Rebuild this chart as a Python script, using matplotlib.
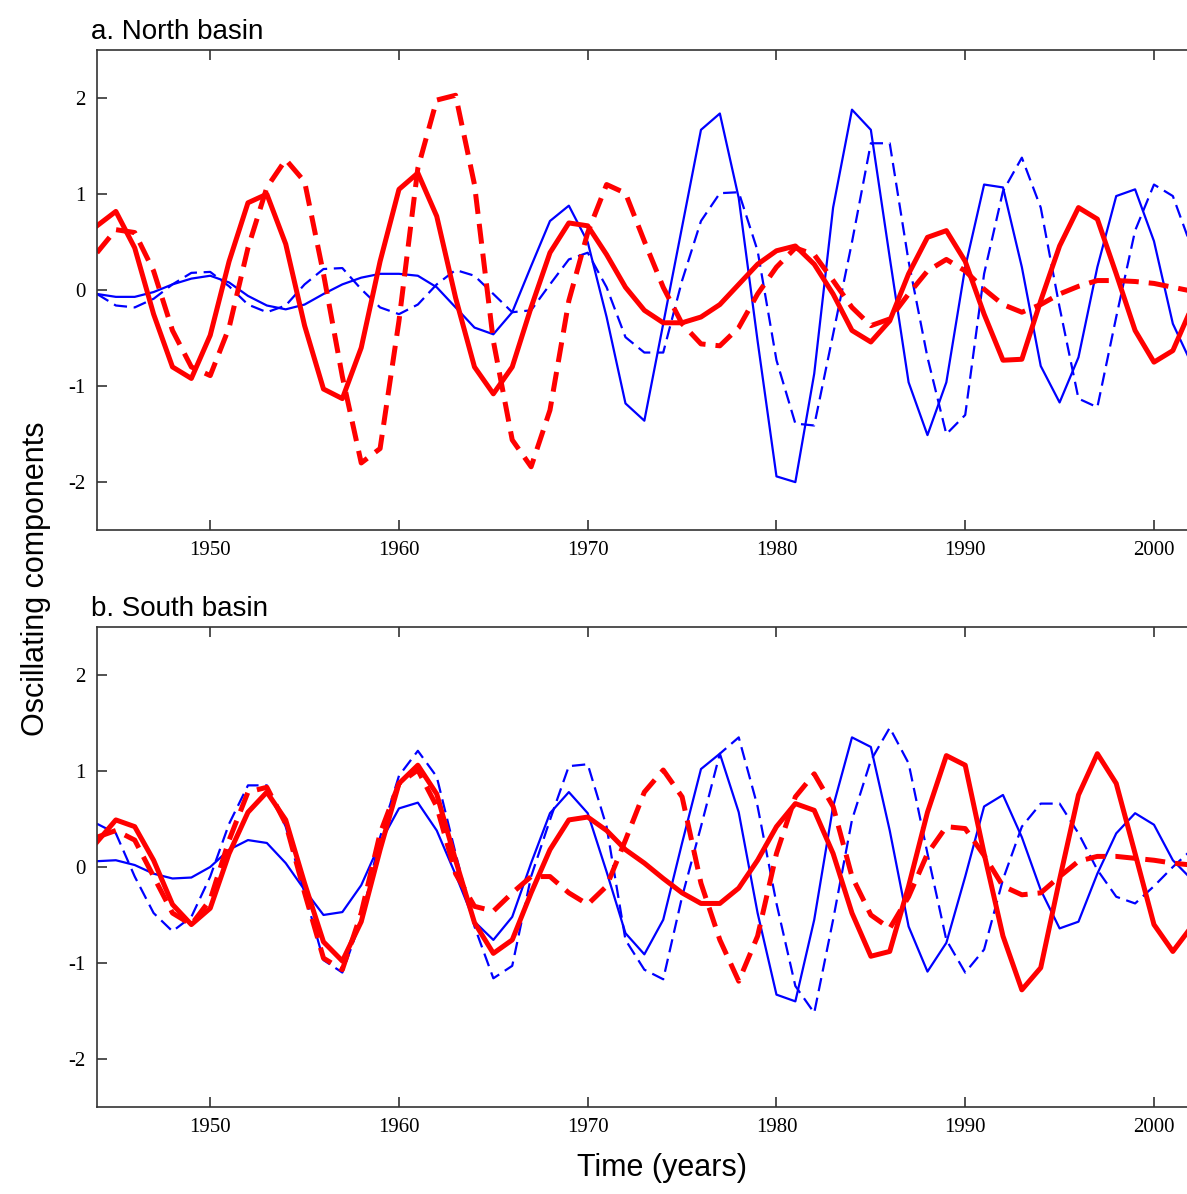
import numpy as np
import matplotlib.pyplot as plt

plt.rcParams["axes.unicode_minus"] = False

years = np.arange(1944, 2003)

# a. North basin
north_red_solid = [0.67, 0.82, 0.44, -0.25, -0.8, -0.92, -0.47, 0.3, 0.91, 1.0,
                   0.48, -0.37, -1.03, -1.13, -0.6, 0.3, 1.05, 1.22, 0.77, -0.08,
                   -0.8, -1.08, -0.8, -0.18, 0.39, 0.7, 0.67, 0.37, 0.03, -0.21,
                   -0.34, -0.34, -0.28, -0.15, 0.06, 0.27, 0.41, 0.46, 0.27, -0.04,
                   -0.42, -0.54, -0.32, 0.17, 0.55, 0.62, 0.3, -0.25, -0.73, -0.72,
                   -0.11, 0.46, 0.86, 0.74, 0.17, -0.42, -0.75, -0.63, -0.18]
north_red_dash = [0.39, 0.63, 0.6, 0.2, -0.42, -0.8, -0.89, -0.39, 0.44, 1.07,
                  1.36, 1.13, 0.17, -0.9, -1.8, -1.65, -0.32, 1.27, 1.98, 2.03,
                  1.1, -0.53, -1.56, -1.84, -1.25, -0.11, 0.6, 1.1, 1.01, 0.51,
                  0.03, -0.35, -0.56, -0.58, -0.39, -0.04, 0.24, 0.44, 0.37, 0.1,
                  -0.18, -0.37, -0.3, -0.04, 0.2, 0.32, 0.2, 0.01, -0.15, -0.23,
                  -0.15, -0.04, 0.04, 0.1, 0.1, 0.09, 0.07, 0.03, -0.01]
north_blue_solid = [-0.04, -0.07, -0.07, -0.02, 0.06, 0.12, 0.15, 0.08, -0.06, -0.16,
                    -0.2, -0.15, -0.04, 0.06, 0.13, 0.17, 0.17, 0.15, 0.03, -0.18,
                    -0.39, -0.46, -0.23, 0.25, 0.72, 0.88, 0.5, -0.28, -1.18, -1.36,
                    -0.35, 0.66, 1.67, 1.84, 0.96, -0.53, -1.94, -2.0, -0.87, 0.86,
                    1.88, 1.67, 0.34, -0.96, -1.51, -0.96, 0.24, 1.1, 1.07, 0.24,
                    -0.79, -1.17, -0.7, 0.24, 0.98, 1.05, 0.51, -0.35, -0.77]
north_blue_dash = [-0.04, -0.16, -0.18, -0.09, 0.06, 0.18, 0.19, 0.04, -0.15, -0.23,
                   -0.16, 0.06, 0.22, 0.23, 0.01, -0.18, -0.25, -0.15, 0.06, 0.21,
                   0.15, -0.04, -0.23, -0.21, 0.06, 0.32, 0.39, 0.03, -0.49, -0.65,
                   -0.65, 0.1, 0.72, 1.01, 1.02, 0.41, -0.73, -1.39, -1.41, -0.46,
                   0.5, 1.53, 1.53, 0.3, -0.7, -1.5, -1.3, 0.17, 1.03, 1.38,
                   0.86, -0.18, -1.13, -1.22, -0.28, 0.62, 1.1, 0.98, 0.44]

# b. South basin
south_red_solid = [0.26, 0.49, 0.42, 0.07, -0.39, -0.6, -0.43, 0.14, 0.57, 0.78,
                   0.49, -0.17, -0.78, -0.98, -0.57, 0.18, 0.87, 1.06, 0.76, 0.07,
                   -0.58, -0.9, -0.76, -0.27, 0.18, 0.49, 0.52, 0.38, 0.18, 0.04,
                   -0.12, -0.27, -0.38, -0.38, -0.22, 0.07, 0.42, 0.66, 0.59, 0.14,
                   -0.48, -0.93, -0.88, -0.2, 0.57, 1.16, 1.06, 0.14, -0.72, -1.28,
                   -1.05, -0.13, 0.75, 1.18, 0.87, 0.14, -0.6, -0.88, -0.62]
south_red_dash = [0.31, 0.38, 0.28, -0.1, -0.48, -0.6, -0.34, 0.28, 0.78, 0.83,
                  0.45, -0.27, -0.95, -1.07, -0.48, 0.35, 0.87, 1.01, 0.63, -0.07,
                  -0.41, -0.46, -0.27, -0.1, -0.1, -0.27, -0.39, -0.2, 0.28, 0.78,
                  1.01, 0.73, -0.17, -0.76, -1.19, -0.72, 0.14, 0.73, 0.97, 0.63,
                  -0.1, -0.5, -0.64, -0.31, 0.14, 0.42, 0.4, 0.12, -0.2, -0.29,
                  -0.27, -0.1, 0.06, 0.11, 0.11, 0.09, 0.07, 0.04, 0.02]
south_blue_solid = [0.06, 0.07, 0.02, -0.07, -0.12, -0.11, 0.0, 0.18, 0.28, 0.25,
                    0.04, -0.24, -0.5, -0.47, -0.19, 0.25, 0.61, 0.67, 0.38, -0.08,
                    -0.57, -0.76, -0.52, 0.04, 0.56, 0.78, 0.56, -0.05, -0.69, -0.91,
                    -0.55, 0.25, 1.02, 1.18, 0.57, -0.48, -1.33, -1.4, -0.55, 0.63,
                    1.35, 1.25, 0.38, -0.62, -1.09, -0.79, -0.1, 0.63, 0.75, 0.31,
                    -0.24, -0.64, -0.57, -0.07, 0.35, 0.56, 0.44, 0.07, -0.13]
south_blue_dash = [0.45, 0.35, -0.1, -0.48, -0.67, -0.52, -0.1, 0.45, 0.85, 0.85,
                   0.42, -0.27, -0.97, -1.1, -0.55, 0.31, 0.95, 1.21, 0.94, 0.14,
                   -0.62, -1.16, -1.03, -0.1, 0.49, 1.05, 1.07, 0.42, -0.76, -1.07,
                   -1.17, -0.31, 0.42, 1.18, 1.35, 0.63, -0.38, -1.24, -1.52, -0.55,
                   0.49, 1.11, 1.45, 1.08, 0.14, -0.76, -1.1, -0.86, -0.13, 0.42,
                   0.66, 0.66, 0.35, -0.03, -0.31, -0.38, -0.2, 0.0, 0.18]

panels = [
    ("a. North basin", north_red_solid, north_red_dash, north_blue_solid, north_blue_dash),
    ("b. South basin", south_red_solid, south_red_dash, south_blue_solid, south_blue_dash),
]

fig = plt.figure(figsize=(11.87, 11.94), dpi=100)
axes = [fig.add_axes([0.0817, 0.556, 0.935, 0.402]),
        fig.add_axes([0.0817, 0.0729, 0.935, 0.402])]

for ax, (title, rs, rd, bs, bd) in zip(axes, panels):
    ax.plot(years, bs, color="#0000ff", lw=1.6)
    ax.plot(years, bd, color="#0000ff", lw=1.6, dashes=(6, 3))
    ax.plot(years, rs, color="#ff0000", lw=3.6)
    ax.plot(years, rd, color="#ff0000", lw=3.6, dashes=(4, 2))
    ax.set_xlim(1944, 2002.8)
    ax.set_ylim(-2.5, 2.5)
    ax.set_xticks([1950, 1960, 1970, 1980, 1990, 2000])
    ax.set_yticks([-2, -1, 0, 1, 2])
    ax.tick_params(direction="in", length=7, width=1.2, top=True, right=True,
                   labelsize=15, colors="#333333", pad=8)
    for lab in ax.get_xticklabels() + ax.get_yticklabels():
        lab.set_family("Liberation Serif")
        lab.set_color("black")
    for s in ax.spines.values():
        s.set_color("#333333")
        s.set_linewidth(1.2)
    ax.set_title(title, loc="left", fontsize=20, family="Liberation Sans", pad=8, x=-0.005)

fig.text(0.03, 0.515, "Oscillating components", rotation=90, ha="center", va="center",
         fontsize=22, family="Liberation Sans")
fig.text(0.558, 0.022, "Time (years)", ha="center", va="center",
         fontsize=22, family="Liberation Sans")

fig.savefig("out.png", dpi=100)
